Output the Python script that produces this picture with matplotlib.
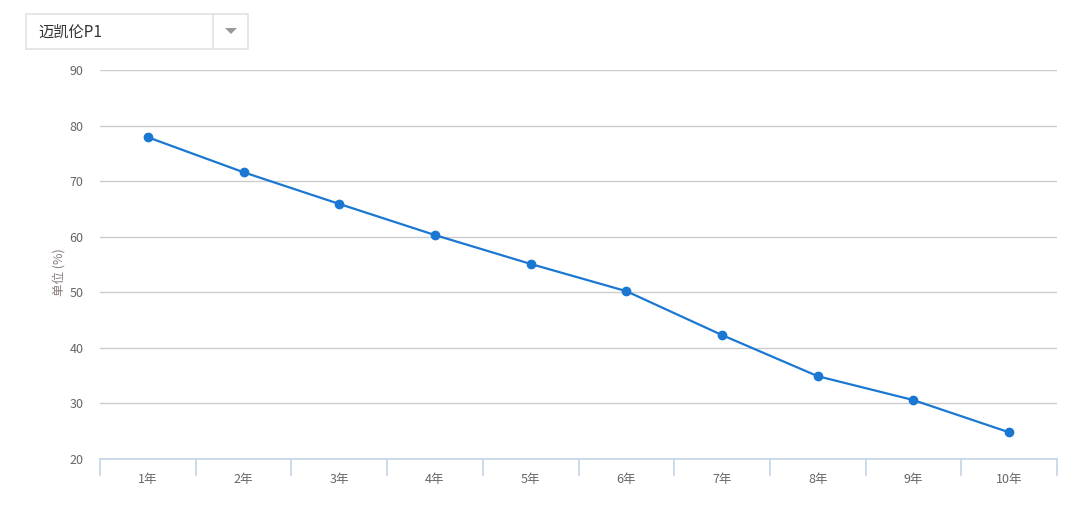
import matplotlib
matplotlib.use('Agg')
import matplotlib.pyplot as plt
from matplotlib.patches import Rectangle, Polygon

plt.rcParams['font.family'] = ['Noto Sans CJK SC', 'DejaVu Sans']

# data
years = ['1年', '2年', '3年', '4年', '5年', '6年', '7年', '8年', '9年', '10年']
values = [77.9, 71.6, 65.9, 60.3, 55.1, 50.2, 42.3, 34.9, 30.6, 24.8]
y_ticks = [20, 30, 40, 50, 60, 70, 80, 90]
title = '迈凯伦P1'
y_label = '单位 (%)'

fig = plt.figure(figsize=(10.8, 5.11), dpi=100)
ax = fig.add_axes([100/1080, 52/511, 957/1080, 389/511])

x = list(range(len(years)))
ax.plot(x, values, color='#1a78d2', lw=1.6, marker='o', ms=6, zorder=3)

ax.set_xlim(-0.5, len(years) - 0.5)
ax.set_ylim(20, 90)
ax.set_yticks(y_ticks)
ax.set_xticks(x)
ax.set_xticklabels(years)
ax.grid(axis='y', color='#cccccc', lw=1)
ax.set_axisbelow(True)

for s in ['top', 'right', 'left']:
    ax.spines[s].set_visible(False)
ax.spines['bottom'].set_color('#c4d3e6')
ax.spines['bottom'].set_linewidth(1.2)

ax.tick_params(axis='y', length=0, pad=12, labelsize=9, labelcolor='#666666')
ax.tick_params(axis='x', length=0, pad=10, labelsize=9, labelcolor='#666666')
# category boundary ticks
for b in [i - 0.5 for i in range(len(years) + 1)]:
    ax.plot([b, b], [0, -0.04], transform=ax.get_xaxis_transform(),
            color='#c4d3e6', lw=1.2, clip_on=False)

ax.set_ylabel(y_label, fontsize=9, color='#8a7d7d')
ax.yaxis.set_label_coords(-0.036, 0.48)

# dropdown box
fig.patches.append(Rectangle((26/1080, (511-49)/511), 222/1080, 35/511,
                             transform=fig.transFigure, facecolor='white',
                             edgecolor='#e2e2e2', lw=1.2))
fig.add_artist(plt.Line2D([213/1080, 213/1080], [(511-49)/511, (511-14)/511],
                          color='#e2e2e2', lw=1.2))
fig.patches.append(Polygon([(225/1080, (511-28)/511), (237/1080, (511-28)/511),
                            (231/1080, (511-34)/511)], closed=True,
                           transform=fig.transFigure, facecolor='#999999',
                           edgecolor='none'))
fig.text(38/1080, (511-32)/511, title, fontsize=11, color='#333333', va='center')

fig.savefig('out.png', dpi=100)
